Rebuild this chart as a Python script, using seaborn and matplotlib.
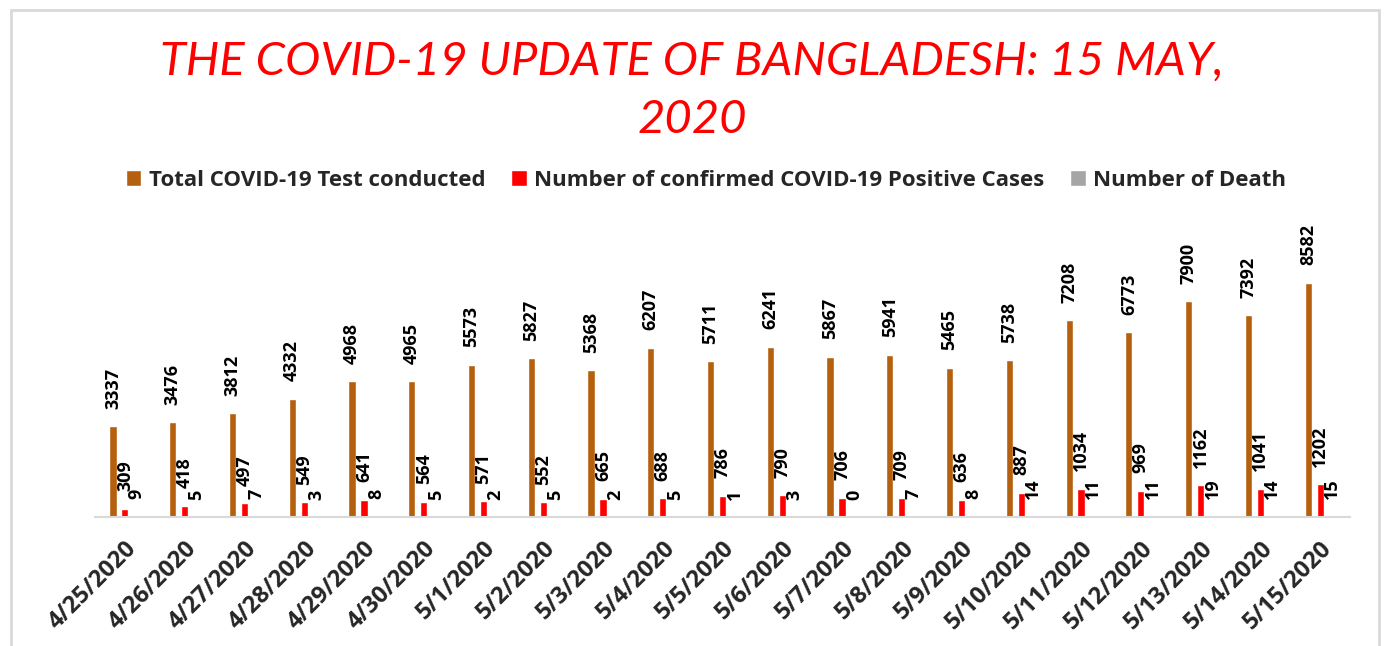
import numpy as np
import pandas as pd
import matplotlib
matplotlib.use("Agg")
import matplotlib.pyplot as plt
from matplotlib.patches import Rectangle
import seaborn as sns

# data
dates = ["4/25/2020", "4/26/2020", "4/27/2020", "4/28/2020", "4/29/2020", "4/30/2020",
         "5/1/2020", "5/2/2020", "5/3/2020", "5/4/2020", "5/5/2020", "5/6/2020",
         "5/7/2020", "5/8/2020", "5/9/2020", "5/10/2020", "5/11/2020", "5/12/2020",
         "5/13/2020", "5/14/2020", "5/15/2020"]
tests = [3337, 3476, 3812, 4332, 4968, 4965, 5573, 5827, 5368, 6207, 5711,
         6241, 5867, 5941, 5465, 5738, 7208, 6773, 7900, 7392, 8582]
positives = [309, 418, 497, 549, 641, 564, 571, 552, 665, 688, 786,
             790, 706, 709, 636, 887, 1034, 969, 1162, 1041, 1202]
deaths = [9, 5, 7, 3, 8, 5, 2, 5, 2, 5, 1, 3, 0, 7, 8, 14, 11, 11, 19, 14, 15]

series = ["Total COVID-19 Test conducted",
          "Number of confirmed COVID-19 Positive Cases",
          "Number of Death"]
colors = ["#B5600F", "#FF0000", "#A5A5A5"]

df = pd.DataFrame({"Date": dates, series[0]: tests, series[1]: positives, series[2]: deaths})
long_df = df.melt(id_vars="Date", var_name="Series", value_name="Value")

sns.set_style("white")
plt.rcParams["font.family"] = ["Open Sans", "DejaVu Sans"]

fig = plt.figure(figsize=(13.84, 6.46), dpi=100)
ax = fig.add_axes([95 / 1384, 1 - 517 / 646, (1350 - 95) / 1384, (517 - 244) / 646])

sns.barplot(data=long_df, x="Date", y="Value", hue="Series", hue_order=series,
            palette=colors, saturation=1, width=0.6, gap=0.4, order=dates, ax=ax, legend=True)

for cont in ax.containers:
    ax.bar_label(cont, rotation=90, padding=12.5, fontsize=13, fontweight="bold", color="black")

ax.set_ylim(0, 10000)
ax.set_xlim(-0.5, len(dates) - 0.5)
ax.set_xlabel("")
ax.set_ylabel("")
ax.set_yticks([])
for s in ["top", "left", "right"]:
    ax.spines[s].set_visible(False)
ax.spines["bottom"].set_color("#D9D9D9")
ax.spines["bottom"].set_linewidth(1.5)

ax.set_xticks(range(len(dates)))
ax.set_xticklabels(dates, rotation=45, ha="right", rotation_mode="anchor",
                   fontsize=17, fontweight="bold")
ax.tick_params(axis="x", which="major", length=0, pad=14)
ax.set_xticks(np.arange(-0.5, len(dates), 1), minor=True)
ax.tick_params(axis="x", which="minor", length=6, width=1.5, color="#D9D9D9")

handles, labels = ax.get_legend_handles_labels()
ax.get_legend().remove()
fig.legend(handles, labels, loc="center", bbox_to_anchor=(0.5 + 14 / 1384, 1 - 180 / 646), ncol=3,
           frameon=False, prop={"weight": "bold", "size": 16}, handlelength=0.7,
           handleheight=0.7, handletextpad=0.35, columnspacing=1.15)

fig.text(0.5, 1 - 62 / 646, "THE COVID-19 UPDATE OF BANGLADESH: 15 MAY,", ha="center", va="center",
         color="#FF0000", fontsize=34, fontstyle="italic", family=["Lato", "DejaVu Sans"])
fig.text(0.5, 1 - 120 / 646, "2020", ha="center", va="center",
         color="#FF0000", fontsize=34, fontstyle="italic", family=["Lato", "DejaVu Sans"])

fig.patches.append(Rectangle((11 / 1384, -0.05), (1379 - 11) / 1384, 1.05 - 10 / 646,
                             transform=fig.transFigure, fill=False, edgecolor="#D9D9D9",
                             linewidth=2))

fig.savefig("out.png", dpi=100)
